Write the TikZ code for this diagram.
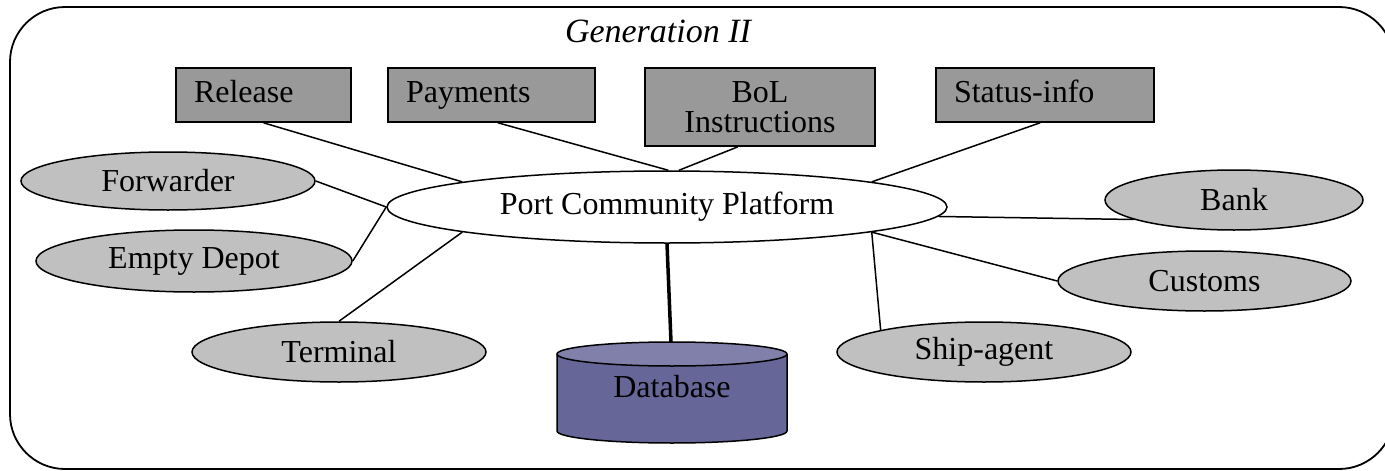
\documentclass[tikz,border=0pt]{standalone}
\usepackage{fontspec}
\setmainfont{Liberation Serif}
\usetikzlibrary{shapes.geometric}
\definecolor{boxgray}{RGB}{153,153,153}
\definecolor{ellgray}{RGB}{192,192,192}
\definecolor{dbside}{RGB}{102,102,153}
\definecolor{dbtopc}{RGB}{128,128,170}
\begin{document}
\begin{tikzpicture}[x=1pt,y=-1pt,
  txt/.style={font=\fontsize{32}{30}\selectfont},
  actbox/.style={txt, draw, line width=1.6pt, fill=boxgray, rectangle,
    minimum height=54pt, inner xsep=18pt, inner ysep=0pt,
    text height=22pt, text depth=7pt, align=left},
  party/.style={txt, draw, ellipse, fill=ellgray, line width=1.5pt, inner sep=0pt},
  link/.style={line width=1.5pt},
  frame/.style={line width=1.8pt, rounded corners=55pt}]
\useasboundingbox (0,0) rectangle (1385,471);
\draw[frame] (10,7) rectangle (1394,469);
\node[font=\itshape\fontsize{34}{40}\selectfont] (gen) at (658,31) {Generation II};
% action boxes
\node[actbox, text width=139pt] (release) at (263.5,95) {Release};
\node[actbox, text width=171pt] (payments) at (491.5,95) {Payments};
\node[txt, draw, line width=1.6pt, fill=boxgray, rectangle, minimum width=230pt,
  minimum height=78pt, inner sep=0pt, align=center] (bol) at (760,107) {BoL\\Instructions};
\node[actbox, text width=182pt] (status) at (1045,95) {Status-info};
% central platform
\node[txt, draw, ellipse, fill=white, line width=1.5pt, inner sep=0pt,
  minimum width=560pt, minimum height=72pt] (pcp) at (667,207) {Port Community Platform};
% parties
\node[party, minimum width=294pt, minimum height=58pt] (forwarder) at (168,181) {Forwarder};
\node[party, minimum width=316pt, minimum height=62pt] (depot) at (194,261) {Empty Depot};
\node[party, minimum width=294pt, minimum height=60pt] (terminal) at (339,352) {Terminal};
\node[party, minimum width=294pt, minimum height=60pt] (shipagent) at (984,352) {Ship-agent};
\node[party, minimum width=293pt, minimum height=60pt] (customs) at (1204.5,281) {Customs};
\node[party, minimum width=258pt, minimum height=60pt] (bank) at (1234,200) {Bank};
% database cylinder
\fill[dbside] (557,354) -- (557,431) arc[start angle=180, end angle=0, x radius=115, y radius=12]
  -- (787,354) -- cycle;
\draw[line width=1.5pt] (557,354) -- (557,431) arc[start angle=180, end angle=0, x radius=115, y radius=12]
  -- (787,354);
\draw[line width=1.5pt, fill=dbtopc] (672,354) ellipse[x radius=115, y radius=12];
\node[txt] (db) at (672,387) {Database};
\coordinate (dbtop) at (671,342);
% connectors
\draw[link] (release.south) -- (pcp.173);
\draw[link] (payments.-77) -- (pcp.88);
\draw[link] (bol.241) -- (pcp.72);
\draw[link] (status.260) -- (pcp.7);
\draw[link] (forwarder.east) -- (pcp.west);
\draw[link] (depot.east) -- (pcp.west);
\draw[link] (terminal.north) -- (pcp.187);
\draw[line width=3.5pt] (pcp.south) -- (dbtop);
\draw[link] (shipagent.168) -- (pcp.353);
\draw[link] (customs.west) -- (pcp.353);
\draw[link] (bank.191) -- (pcp.358);
\end{tikzpicture}
\end{document}
